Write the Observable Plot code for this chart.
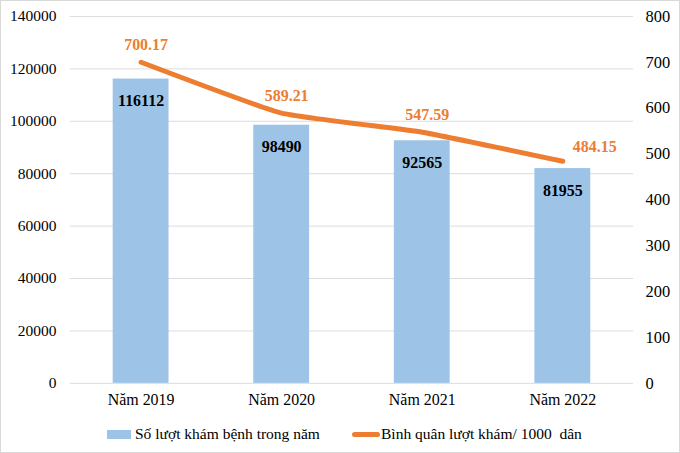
<!DOCTYPE html>
<html>
<head>
<meta charset="utf-8">
<script src="https://cdn.jsdelivr.net/npm/d3@7"></script>
<script src="https://cdn.jsdelivr.net/npm/@observablehq/plot@0.6"></script>
<style>
  html, body { margin: 0; padding: 0; background: #fff; }
  #chart {
    position: relative; width: 680px; height: 453px; box-sizing: border-box;
    border: 1px solid #d9d9d9; overflow: hidden;
    font-family: "Liberation Serif", "Times New Roman", serif;
  }
  #chart svg { position: absolute; left: -1px; top: -1px; }
  .legend { position: absolute; top: 421px; left: 0; width: 680px; height: 24px; font-size: 15.5px; color: #000; }
  .legend .item { position: absolute; top: 0; display: flex; align-items: center; height: 24px; white-space: pre; }
  .legend .box { display: inline-block; width: 24px; height: 9px; background: #9DC3E6; margin-right: 4px; }
  .legend .ln { display: inline-block; width: 28px; height: 5px; border-radius: 3px; background: #ED7D31; margin-right: 1px; }
</style>
</head>
<body>
<div id="chart"></div>
<script>
// Annual hospital visits and visits per 1000 residents, 2019–2022
const years = ["Năm 2019", "Năm 2020", "Năm 2021", "Năm 2022"];
const visits = [116112, 98490, 92565, 81955];
const perThousand = [700.17, 589.21, 547.59, 484.15];
const leftTicks = [0, 20000, 40000, 60000, 80000, 100000, 120000, 140000];
const rightTicks = [0, 100, 200, 300, 400, 500, 600, 700, 800];
const seriesNames = ["Số lượt khám bệnh trong năm", "Bình quân lượt khám/ 1000  dân"];

// the right axis (0–800) shares the left scale (0–140000)
const k = 140000 / 800;

const rows = years.map((year, i) => ({year, visits: visits[i], rate: perThousand[i], rateY: perThousand[i] * k, i}));

const blue = "#9DC3E6";
const orange = "#ED7D31";
const grid = "#dcdcdc";

const chart = Plot.plot({
  width: 680,
  height: 420,
  marginTop: 16,
  marginBottom: 36,
  marginLeft: 70,
  marginRight: 45,
  style: {fontFamily: "'Liberation Serif', 'Times New Roman', serif", fontSize: "15px", color: "#000", background: "transparent"},
  x: {domain: years, paddingInner: 0.6, paddingOuter: 0.3, label: null},
  y: {domain: [0, 140000], label: null},
  marks: [
    Plot.ruleY(leftTicks, {stroke: grid, strokeWidth: 1}),
    Plot.axisY({ticks: leftTicks, tickSize: 0, tickPadding: 14, tickFormat: d => String(d), label: null, fontSize: 15.5}),
    Plot.axisY({anchor: "right", ticks: rightTicks.map(v => v * k), tickSize: 0, tickPadding: 12, tickFormat: d => String(Math.round(d / k)), label: null, fontSize: 16.5}),
    Plot.axisX({tickSize: 0, tickPadding: 10, label: null, fontSize: 16}),
    Plot.barY(rows, {x: "year", y: "visits", fill: blue}),
    Plot.text(rows, {x: "year", y: "visits", text: d => String(d.visits), dy: 22, fontWeight: "bold", fontSize: 16, fill: "#000"}),
    Plot.line(rows, {x: "year", y: "rateY", stroke: orange, strokeWidth: 5, curve: "cardinal", tension: 0.6, strokeLinecap: "round", strokeLinejoin: "round"}),
    Plot.text(rows.filter(d => d.i < 3), {x: "year", y: "rateY", text: d => d.rate.toFixed(2), dx: 5, dy: -17, fontWeight: "bold", fontSize: 16, fill: orange}),
    Plot.text(rows.filter(d => d.i === 3), {x: "year", y: "rateY", text: d => d.rate.toFixed(2), dx: 32, dy: -14, fontWeight: "bold", fontSize: 16, fill: orange})
  ]
});

const root = document.getElementById("chart");
root.appendChild(chart);

const legend = document.createElement("div");
legend.className = "legend";
legend.innerHTML =
  `<span class="item" style="left:106px"><span class="box"></span>${seriesNames[0]}</span>` +
  `<span class="item" style="left:351px"><span class="ln"></span>${seriesNames[1]}</span>`;
root.appendChild(legend);
</script>
</body>
</html>
